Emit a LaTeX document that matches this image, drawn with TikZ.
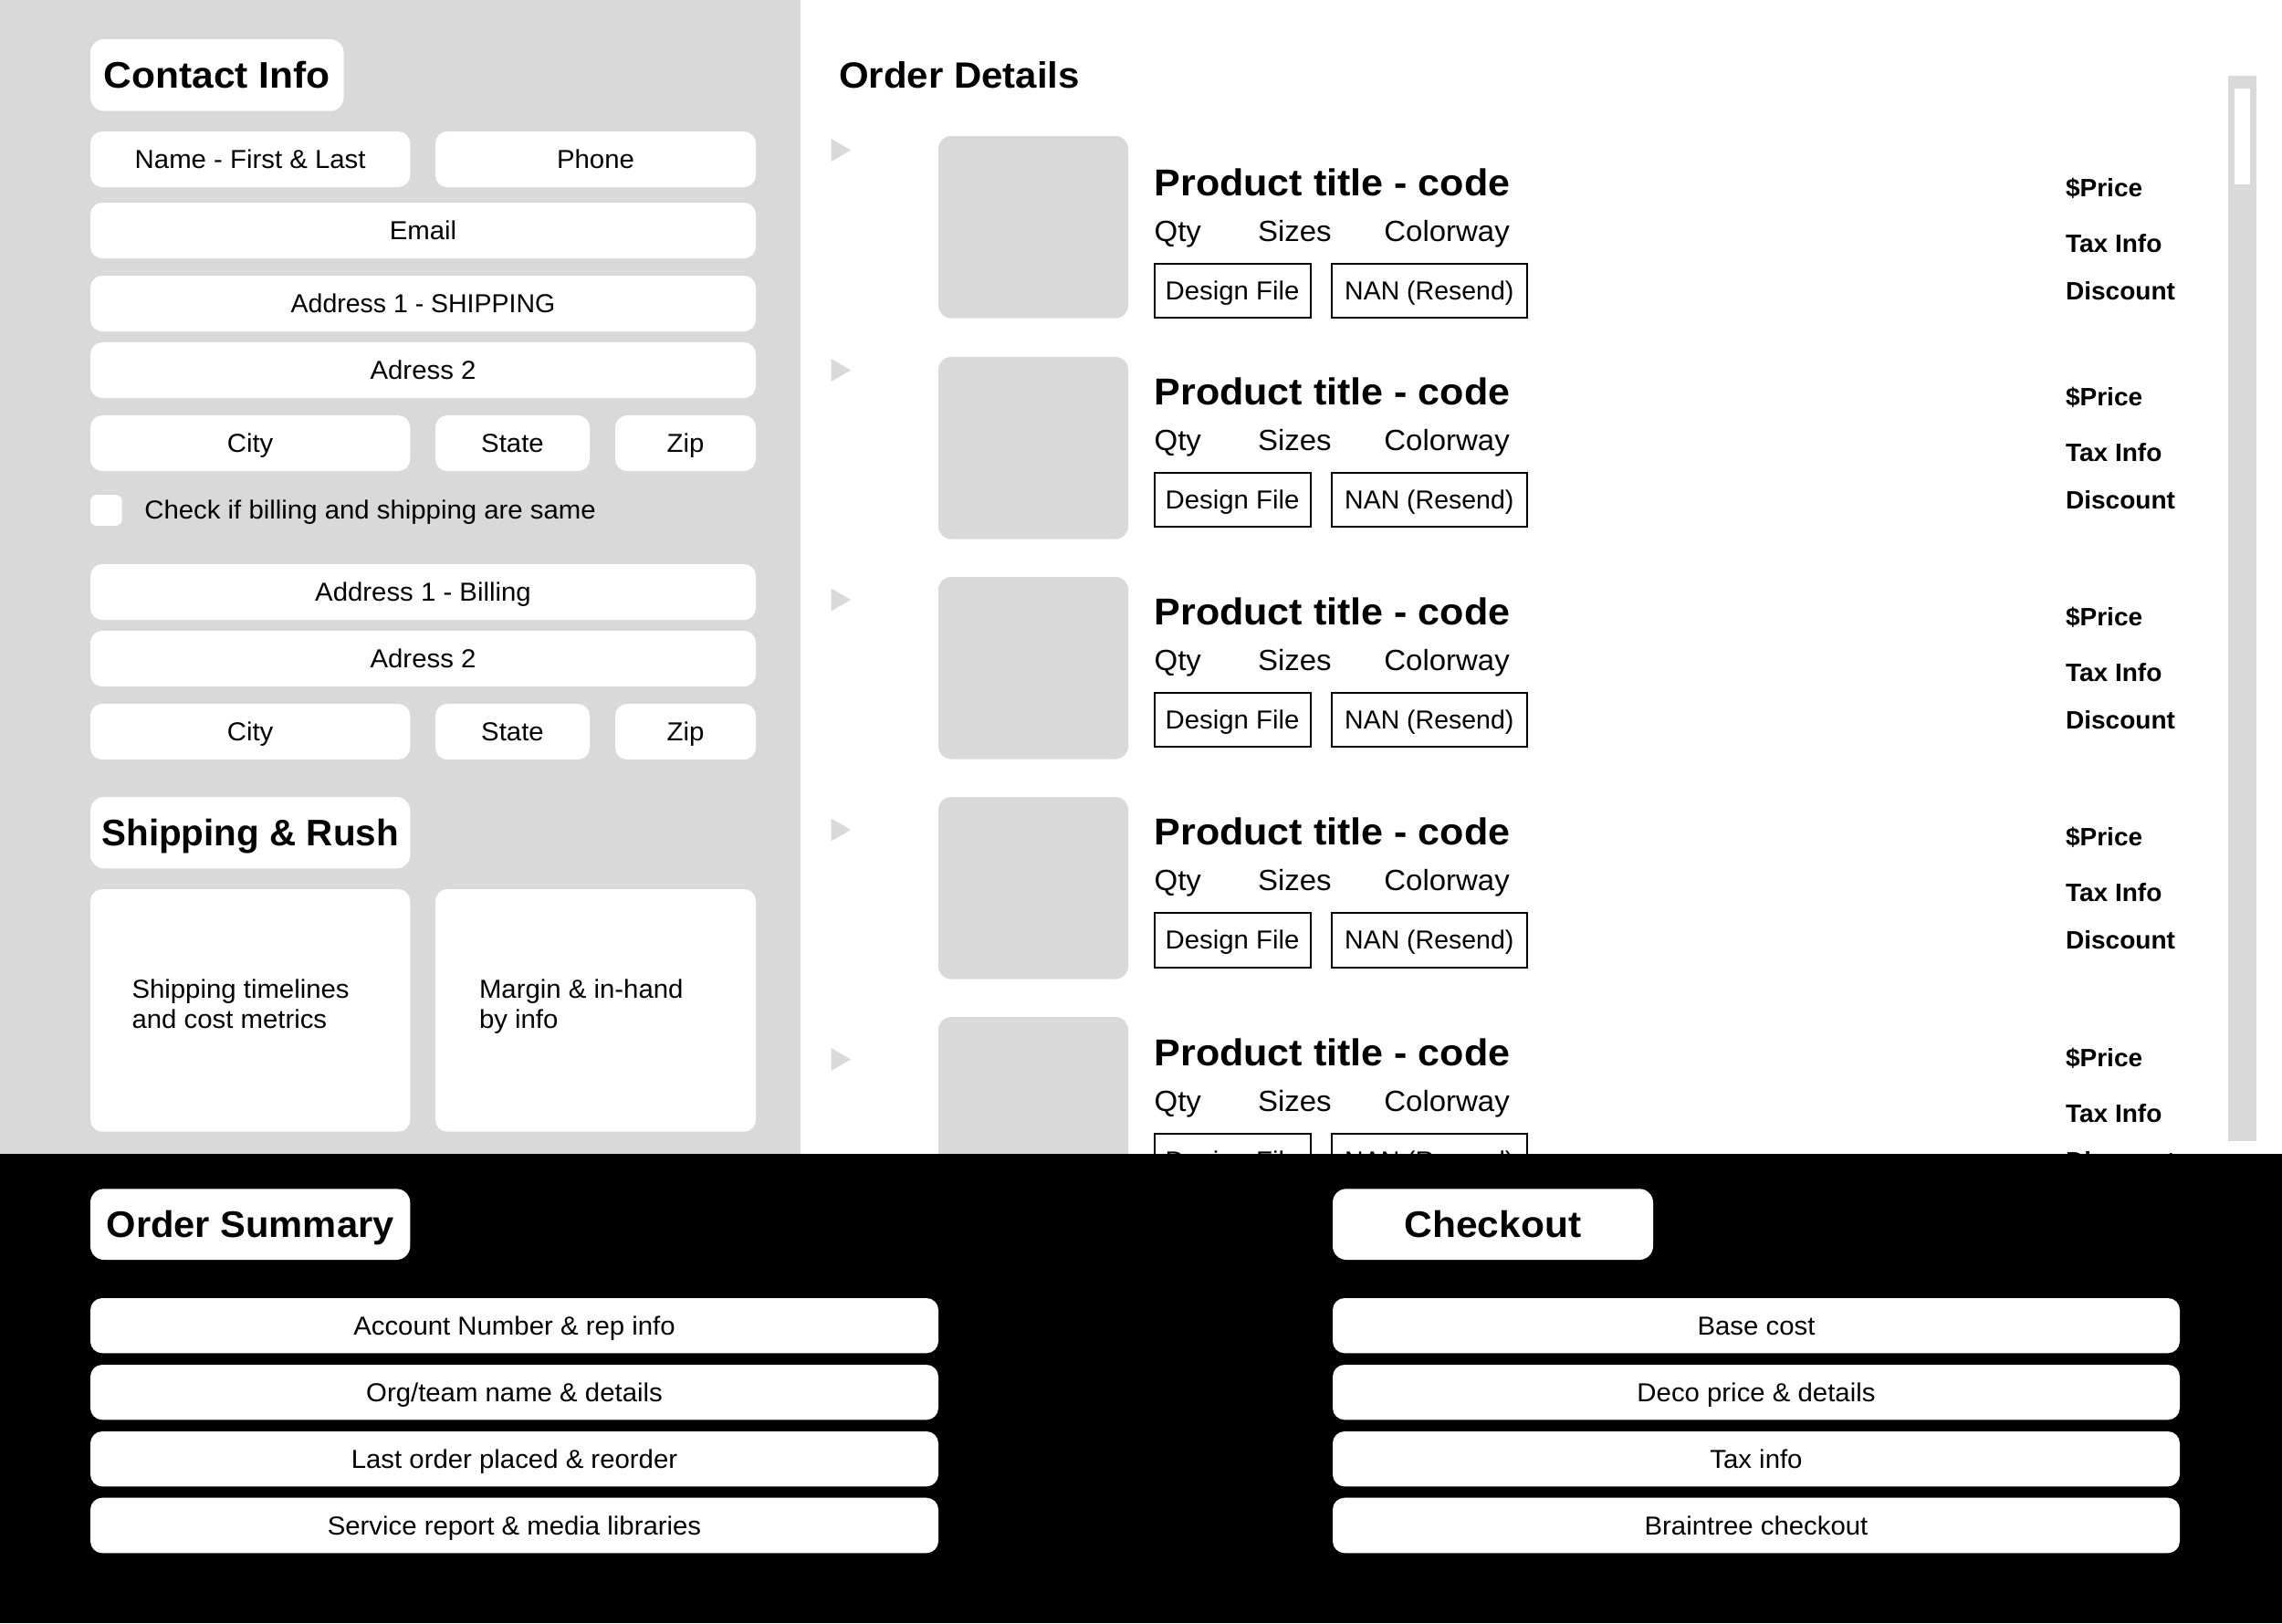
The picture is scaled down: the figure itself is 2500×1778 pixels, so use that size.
\documentclass[tikz,border=0pt]{standalone}
\usepackage{fontspec}
\newfontfamily\reg[FakeStretch=1.03]{Liberation Sans}
\newfontfamily\bld[FakeStretch=1.05]{Liberation Sans Bold}
\newfontfamily\bldn[FakeStretch=1.02]{Liberation Sans Bold}
\definecolor{panel}{HTML}{D9D9D9}
\tikzset{
  every node/.style={inner sep=0pt,outer sep=0pt},
  fieldbox/.style={fill=white,rounded corners=13pt,font=\fontsize{28.5}{33}\reg,text height=20pt,text depth=0pt,text=black},
  headbox/.style={fill=white,rounded corners=15pt,font=\fontsize{40.5}{46}\bld,text height=29pt,text depth=0pt,text=black},
  cardtext/.style={anchor=base west,align=left,font=\fontsize{28.5}{33}\reg},
  btnbox/.style={draw=black,line width=2pt,fill=white,font=\fontsize{28.5}{33}\reg,text height=20pt,text depth=0pt},
  thumbbox/.style={fill=panel,rounded corners=14pt,minimum width=208pt,minimum height=199.5pt},
  sectitle/.style={anchor=base west,font=\fontsize{40}{46}\bld},
  prodtitle/.style={anchor=base west,font=\fontsize{41}{46}\bld},
  prodmeta/.style={anchor=base west,font=\fontsize{32}{36}\reg},
  pricetext/.style={anchor=base west,font=\fontsize{27.5}{32}\bldn},
  playtri/.style={fill=panel},
}
\newcommand{\boxat}[7][]{%
  \node[#2,#1,minimum width={(#5-#3)*1pt},minimum height={(#6-#4)*1pt}] (#7) at ({(#3+#5)/2},{(#4+#6)/2})}
\begin{document}
\begin{tikzpicture}[x=1pt,y=-1pt]
\useasboundingbox (0,0) rectangle (2500,1778);
\fill[white] (0,0) rectangle (2500,1778);
\fill[panel] (0,0) rectangle (877,1264);
% contact
\boxat{headbox}{99}{43}{376.6}{121.6}{contact} {Contact Info};
\boxat{fieldbox}{99}{144}{449.3}{205}{name} {Name - First \& Last};
\boxat{fieldbox}{477}{144}{828}{205}{phone} {Phone};
\boxat{fieldbox}{99}{222}{828}{283}{email} {Email};
\boxat{fieldbox}{99}{302}{828}{363}{addrA} {\scalebox{0.97}[1]{Address 1 - SHIPPING}};
\boxat{fieldbox}{99}{375}{828}{436}{addrB} {Adress 2};
\boxat{fieldbox}{99}{455}{449.3}{516}{city} {City};
\boxat{fieldbox}{477}{455}{646}{516}{state} {State};
\boxat{fieldbox}{674}{455}{828}{516}{zip} {Zip};
\boxat[rounded corners=7pt]{fieldbox}{99}{542}{133.7}{576}{check} {};
\node[cardtext] (checktext) at (158.4,568) {Check if billing and shipping are same};
\boxat{fieldbox}{99}{618}{828}{679}{billA} {Address 1 - Billing};
\boxat{fieldbox}{99}{691}{828}{752}{billB} {Adress 2};
\boxat{fieldbox}{99}{771}{449.3}{832}{bcity} {City};
\boxat{fieldbox}{477}{771}{646}{832}{bstate} {State};
\boxat{fieldbox}{674}{771}{828}{832}{bzip} {Zip};
% shipping
\boxat{headbox}{99}{873}{449.3}{951.3}{shiphead} {\scalebox{0.95}[1]{Shipping \& Rush}};
\boxat{fieldbox}{99}{974}{449.3}{1239.7}{shipcard} {};
\boxat{fieldbox}{477}{974}{828}{1239.7}{margincard} {};
\node[cardtext] (shiptext) at (144.5,1126) {Shipping timelines\\and cost metrics};
\node[cardtext] (margintext) at (525,1126) {Margin \& in-hand\\by info};
% order details
\node[sectitle] (orderhead) at (919,96.4) {Order Details};
\fill[panel] (2441,83) rectangle (2472,1250);
\fill[white] (2448,97) rectangle (2465,202);
\foreach \r/\th/\tb/\tc in {1/149/214/164.5,2/391/443/405.5,3/632/684/657,4/873/925.5/909,5/1114/1167/1160.5}{
  \pgfmathsetmacro{\thc}{\th+99.75}
  \fill[playtri] (910.5,\tc-12.5) -- (932,\tc) -- (910.5,\tc+12.5) -- cycle;
  \node[thumbbox] (thumb\r) at (1132,\thc) {};
  \node[prodtitle] (title\r) at (1264.6,\tb) {Product title - code};
  \node[prodmeta] (qty\r) at (1264.6,\tb+50) {Qty};
  \node[prodmeta] (sizes\r) at (1378,\tb+50) {Sizes};
  \node[prodmeta] (color\r) at (1516.4,\tb+50) {Colorway};
  \pgfmathsetmacro{\bt}{\tb+74.5}
  \pgfmathsetmacro{\bb}{\tb+134}
  \boxat{btnbox}{1264.6}{\bt}{1435.5}{\bb}{design\r} {Design File};
  \boxat{btnbox}{1458.6}{\bt}{1673}{\bb}{nan\r} {\scalebox{0.97}[1]{NAN (Resend)}};
  \node[pricetext] (price\r) at (2263,\tb+1) {\$Price};
  \node[pricetext] (tax\r) at (2263,\tb+62) {Tax Info};
  \node[pricetext] (disc\r) at (2263,\tb+114) {Discount};
}
% bottom
\fill[black] (0,1264) rectangle (2500,1778);
\boxat{headbox}{99}{1302.3}{449.3}{1380}{summary} {\scalebox{0.98}[1]{Order Summary}};
\boxat{headbox}{1460}{1302.3}{1811}{1380}{checkout} {Checkout};
\boxat{fieldbox}{99}{1422}{1028}{1482.3}{sA} {Account Number \& rep info};
\boxat{fieldbox}{99}{1495}{1028}{1555.3}{sB} {Org/team name \& details};
\boxat{fieldbox}{99}{1568}{1028}{1628.3}{sC} {Last order placed \& reorder};
\boxat{fieldbox}{99}{1640.7}{1028}{1701.3}{sD} {Service report \& media libraries};
\boxat{fieldbox}{1460}{1422}{2388}{1482.3}{cA} {Base cost};
\boxat{fieldbox}{1460}{1495}{2388}{1555.3}{cB} {Deco price \& details};
\boxat{fieldbox}{1460}{1568}{2388}{1628.3}{cC} {Tax info};
\boxat{fieldbox}{1460}{1640.7}{2388}{1701.3}{cD} {Braintree checkout};
\end{tikzpicture}
\end{document}
